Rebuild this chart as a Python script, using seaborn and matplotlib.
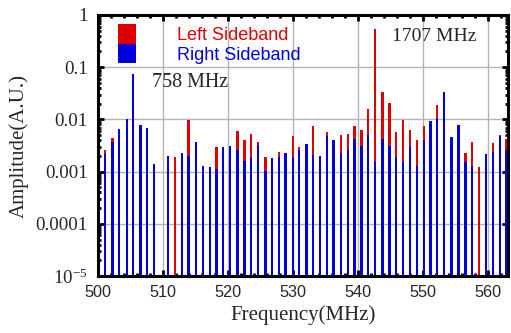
import numpy as np
import pandas as pd
import matplotlib
matplotlib.use("Agg")
import matplotlib.pyplot as plt
from matplotlib.patches import Patch
import seaborn as sns

# Sideband line positions (MHz) and amplitudes
freq = [501.1, 502.3, 503.3, 504.5, 505.4, 506.6, 507.6, 508.7, 510.8, 511.9,
        513.0, 514.0, 515.1, 516.2, 517.3, 518.3, 519.3, 520.4, 521.5, 522.6,
        523.6, 524.7, 525.8, 526.8, 527.9, 528.9, 530.0, 531.0, 532.1, 533.1,
        534.2, 535.3, 536.3, 537.4, 538.5, 539.5, 540.6, 541.6, 542.7, 543.8,
        544.9, 545.9, 547.0, 548.0, 549.1, 550.2, 551.2, 552.2, 553.3, 554.4,
        555.5, 556.6, 557.6, 558.7, 559.7, 560.8, 561.9, 562.9]
left_sideband = [0.0026, 0.0044, 0.0030, 0.0058, 0.0047, 0.0018, 0.0012, 0.0009, 0.0012, 0.0019,
                 0.0015, 0.0097, 0.0024, 0.0009, 0.0010, 0.0029, 0.0020, 0.0020, 0.0061, 0.0041,
                 0.0053, 0.0037, 0.0019, 0.0012, 0.0024, 0.0015, 0.0048, 0.0029, 0.0020, 0.0075,
                 0.0012, 0.0057, 0.0021, 0.0050, 0.0052, 0.0075, 0.0063, 0.016, 0.54, 0.033,
                 0.021, 0.0057, 0.0097, 0.0063, 0.0041, 0.0075, 0.0023, 0.019, 0.0020, 0.0030,
                 0.0030, 0.0023, 0.0037, 0.0012, 0.0015, 0.0035, 0.0050, 0.0042]
right_sideband = [0.0022, 0.0037, 0.0065, 0.0100, 0.075, 0.0078, 0.0068, 0.0014, 0.0020, None,
                  0.0023, 0.0020, 0.0037, 0.0013, 0.0012, 0.00114, 0.0029, 0.0031, 0.0026, 0.0016,
                  0.0019, 0.0033, 0.00105, 0.0018, 0.0019, 0.0023, 0.0019, 0.0026, 0.0034, 0.0021,
                  0.0020, 0.0048, 0.0041, 0.0023, 0.0026, 0.0042, 0.0031, 0.0050, 0.0015, 0.0042,
                  0.0031, 0.0019, 0.0015, 0.0029, 0.0013, 0.0041, 0.0093, 0.0106, 0.033, 0.0046,
                  0.0078, 0.0015, 0.0013, None, 0.0022, 0.0024, 0.0048, 0.0026]

series_names = ["Left Sideband", "Right Sideband"]
x_ticks = [500, 510, 520, 530, 540, 550, 560]
y_ticks = [1, 0.1, 0.01, 0.001, 0.0001, 0.00001]
y_tick_labels = ["1", "0.1", "0.01", "0.001", "0.0001", "$\\mathregular{10^{-5}}$"]

RED = "#e00000"
BLUE = "#0000dc"

sns.set_theme(style="ticks")
plt.rcParams["font.family"] = ["Liberation Serif", "DejaVu Serif"]
plt.rcParams["mathtext.fontset"] = "stix"

df = pd.DataFrame({"freq": freq, "left": left_sideband, "right": right_sideband})

fig, ax = plt.subplots(figsize=(5.11, 3.33), dpi=100)
fig.subplots_adjust(left=0.191, right=0.994, bottom=0.171, top=0.955)
ax.set_yscale("log")

bar_w = 0.36  # MHz
for col, color in [("left", RED), ("right", BLUE)]:
    sub = df.dropna(subset=[col])
    step = np.diff(np.sort(sub["freq"].unique())).min()
    sns.barplot(data=sub, x="freq", y=col, native_scale=True, width=bar_w / step,
                color=color, saturation=1, errorbar=None, linewidth=0, ax=ax)

ax.set_xlim(500, 563.1)
ax.set_ylim(1e-5, 1)
ax.set_xticks(x_ticks)
ax.set_xticklabels([str(t) for t in x_ticks], family="Liberation Sans", fontsize=11.7)
ax.set_xticks(np.arange(502, 564, 2), minor=True)
ax.set_yticks(y_ticks)
ax.set_yticklabels(y_tick_labels, fontsize=13.6)

ax.set_axisbelow(True)
ax.grid(True, which="major", color="#b4b4b4", lw=1.0)
for s in ax.spines.values():
    s.set_linewidth(2.2)
    s.set_color("black")
ax.tick_params(which="both", direction="in", top=True, right=True, width=2, color="black")
ax.tick_params(which="major", length=4.5)
ax.tick_params(which="minor", length=2.5)
ax.tick_params(axis="x", pad=6.5)
ax.tick_params(axis="y", pad=7)

ax.set_xlabel("Frequency(MHz)", fontsize=15, labelpad=4)
ax.set_ylabel("Amplitude(A.U.)", fontsize=15, labelpad=5)

ax.text(508.3, 0.05, "758 MHz", fontsize=14.4, va="center", ha="left")
ax.text(545.2, 0.38, "1707 MHz", fontsize=14, va="center", ha="left")

handles = [Patch(facecolor=RED, edgecolor="none"), Patch(facecolor=BLUE, edgecolor="none")]
leg = ax.legend(handles, series_names, loc="upper left", bbox_to_anchor=(0.049, 0.966),
                frameon=False, borderpad=0, borderaxespad=0, handlelength=1.0,
                handleheight=1.3, handletextpad=2.3, labelspacing=0.0,
                prop={"family": "Liberation Sans", "size": 13})
for t, c in zip(leg.get_texts(), [RED, BLUE]):
    t.set_color(c)

fig.savefig("out.png", dpi=100)
